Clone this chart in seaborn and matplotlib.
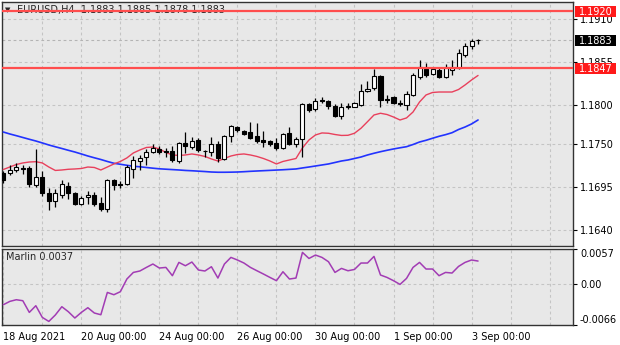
import numpy as np
import pandas as pd
import matplotlib
matplotlib.use("Agg")
import matplotlib.pyplot as plt
import matplotlib.transforms as mtransforms
from matplotlib.patches import Rectangle
import seaborn as sns

# ---------------- data (EURUSD H4, 18 Aug 2021 00:00 -> 3 Sep 2021 04:00) ----------------
opens = [1.17130, 1.17130, 1.17168, 1.17194, 1.17194, 1.16976, 1.17078, 1.16874, 1.16765, 1.16848,
         1.16963, 1.16874, 1.16733, 1.16822, 1.16848, 1.16746, 1.16669, 1.17040, 1.16989, 1.16989,
         1.17181, 1.17283, 1.17334, 1.17398, 1.17437, 1.17411, 1.17411, 1.17277, 1.17514, 1.17462,
         1.17552, 1.17411, 1.17398, 1.17501, 1.17309, 1.17603, 1.17718, 1.17661, 1.17654, 1.17603,
         1.17552, 1.17539, 1.17514, 1.17453, 1.17638, 1.17501, 1.17561, 1.18009, 1.17945, 1.18070,
         1.18051, 1.17987, 1.17859, 1.17978, 1.17978, 1.18000, 1.18183, 1.18211, 1.18365, 1.18077,
         1.18096, 1.18019, 1.18000, 1.18134, 1.18358, 1.18461, 1.18397, 1.18448, 1.18358, 1.18454,
         1.18474, 1.18640, 1.18749, 1.18830]
highs = [1.17155, 1.17232, 1.17258, 1.17232, 1.17219, 1.17437, 1.17155, 1.16938, 1.16925, 1.17040,
         1.17014, 1.16886, 1.16835, 1.16893, 1.16880, 1.16822, 1.17053, 1.17053, 1.17027, 1.17232,
         1.17341, 1.17360, 1.17437, 1.17501, 1.17475, 1.17450, 1.17475, 1.17530, 1.17654, 1.17590,
         1.17578, 1.17424, 1.17590, 1.17539, 1.17616, 1.17744, 1.17735, 1.17680, 1.17782, 1.17770,
         1.17671, 1.17552, 1.17574, 1.17638, 1.17715, 1.17587, 1.18022, 1.18029, 1.18086, 1.18099,
         1.18064, 1.18013, 1.18022, 1.18029, 1.18042, 1.18269, 1.18311, 1.18461, 1.18378, 1.18128,
         1.18115, 1.18070, 1.18179, 1.18413, 1.18582, 1.18531, 1.18474, 1.18467, 1.18525, 1.18570,
         1.18713, 1.18790, 1.18841, 1.18850]
lows = [1.17002, 1.17104, 1.17142, 1.17117, 1.16950, 1.16950, 1.16835, 1.16656, 1.16694, 1.16810,
        1.16797, 1.16720, 1.16720, 1.16733, 1.16707, 1.16643, 1.16630, 1.16912, 1.16938, 1.16970,
        1.17066, 1.17168, 1.17232, 1.17386, 1.17373, 1.17334, 1.17270, 1.17258, 1.17386, 1.17437,
        1.17402, 1.17334, 1.17341, 1.17264, 1.17296, 1.17520, 1.17658, 1.17616, 1.17561, 1.17510,
        1.17466, 1.17475, 1.17424, 1.17437, 1.17488, 1.17466, 1.17338, 1.17914, 1.17923, 1.18022,
        1.17945, 1.17843, 1.17825, 1.17945, 1.17971, 1.17987, 1.18170, 1.18192, 1.17971, 1.18026,
        1.18009, 1.17987, 1.17936, 1.18115, 1.18333, 1.18362, 1.18384, 1.18346, 1.18342, 1.18384,
        1.18461, 1.18618, 1.18717, 1.18780]
closes = [1.17040, 1.17174, 1.17206, 1.17181, 1.16989, 1.17078, 1.16874, 1.16771, 1.16874, 1.16989,
          1.16874, 1.16733, 1.16810, 1.16854, 1.16733, 1.16669, 1.17034, 1.16970, 1.16976, 1.17206,
          1.17302, 1.17322, 1.17398, 1.17450, 1.17392, 1.17398, 1.17290, 1.17507, 1.17469, 1.17533,
          1.17418, 1.17405, 1.17501, 1.17322, 1.17603, 1.17731, 1.17674, 1.17629, 1.17578, 1.17533,
          1.17520, 1.17501, 1.17450, 1.17625, 1.17501, 1.17561, 1.18009, 1.17936, 1.18051, 1.18045,
          1.17987, 1.17859, 1.17978, 1.17987, 1.18022, 1.18179, 1.18201, 1.18371, 1.18064, 1.18070,
          1.18026, 1.18013, 1.18141, 1.18384, 1.18483, 1.18384, 1.18457, 1.18352, 1.18474, 1.18474,
          1.18659, 1.18755, 1.18819, 1.18830]
ma_fast = [1.17174, 1.17206, 1.17238, 1.17258, 1.17270, 1.17274, 1.17258, 1.17206, 1.17162, 1.17168,
           1.17177, 1.17181, 1.17187, 1.17206, 1.17200, 1.17168, 1.17206, 1.17245, 1.17277, 1.17322,
           1.17386, 1.17424, 1.17456, 1.17462, 1.17437, 1.17392, 1.17360, 1.17354, 1.17360, 1.17373,
           1.17360, 1.17341, 1.17309, 1.17283, 1.17315, 1.17347, 1.17366, 1.17373, 1.17360, 1.17341,
           1.17315, 1.17283, 1.17245, 1.17277, 1.17296, 1.17315, 1.17450, 1.17552, 1.17616, 1.17642,
           1.17638, 1.17622, 1.17610, 1.17612, 1.17638, 1.17702, 1.17786, 1.17872, 1.17894, 1.17878,
           1.17846, 1.17808, 1.17834, 1.17910, 1.18038, 1.18128, 1.18160, 1.18166, 1.18166, 1.18166,
           1.18198, 1.18256, 1.18320, 1.18378]
ma_slow = [1.17654, 1.17629, 1.17607, 1.17584, 1.17561, 1.17539, 1.17514, 1.17488, 1.17465, 1.17443,
           1.17420, 1.17398, 1.17373, 1.17347, 1.17324, 1.17302, 1.17277, 1.17254, 1.17241, 1.17228,
           1.17215, 1.17209, 1.17200, 1.17191, 1.17183, 1.17178, 1.17173, 1.17168, 1.17162, 1.17158,
           1.17153, 1.17148, 1.17142, 1.17139, 1.17139, 1.17140, 1.17142, 1.17146, 1.17151, 1.17155,
           1.17159, 1.17163, 1.17167, 1.17171, 1.17176, 1.17181, 1.17194, 1.17206, 1.17219, 1.17232,
           1.17245, 1.17264, 1.17283, 1.17296, 1.17315, 1.17334, 1.17360, 1.17382, 1.17402, 1.17420,
           1.17437, 1.17452, 1.17466, 1.17494, 1.17526, 1.17548, 1.17574, 1.17599, 1.17620, 1.17645,
           1.17686, 1.17718, 1.17757, 1.17808]
marlin = [-0.00332, -0.00278, -0.00251, -0.00267, -0.00456, -0.00348, -0.00537, -0.00602, -0.00498, -0.00364,
          -0.00445, -0.00547, -0.00456, -0.00380, -0.00466, -0.00494, -0.00133, -0.00170, -0.00121, 0.00084,
          0.00191, 0.00214, 0.00272, 0.00327, 0.00262, 0.00272, 0.00138, 0.00353, 0.00299, 0.00359,
          0.00230, 0.00214, 0.00283, 0.00100, 0.00327, 0.00434, 0.00392, 0.00343, 0.00272, 0.00218,
          0.00165, 0.00110, 0.00057, 0.00202, 0.00084, 0.00100, 0.00515, 0.00417, 0.00472, 0.00434,
          0.00364, 0.00191, 0.00256, 0.00218, 0.00239, 0.00343, 0.00343, 0.00450, 0.00149, 0.00110,
          0.00057, -0.00003, 0.00094, 0.00272, 0.00353, 0.00246, 0.00246, 0.00138, 0.00191, 0.00181,
          0.00288, 0.00353, 0.00392, 0.00375]

date_labels = ["18 Aug 2021", "20 Aug 00:00", "24 Aug 00:00", "26 Aug 00:00",
               "30 Aug 00:00", "1 Sep 00:00", "3 Sep 00:00"]
date_label_bars = [0, 12, 24, 36, 48, 60, 72]
price_ticks = [1.1640, 1.1695, 1.1750, 1.1800, 1.1855, 1.1910]
level_prices = [1.1920, 1.1847]
last_price = 1.1883
marlin_ticks = [0.0057, 0.0, -0.0066]
marlin_tick_labels = ["0.0057", "0.00", "-0.0066"]
title_text = "EURUSD,H4  1.1883 1.1885 1.1878 1.1883"
marlin_title = "Marlin 0.0037"

# ---------------- styling ----------------
sns.set_style("white")
plt.rcParams['font.family'] = ['DejaVu Sans']
FS = 7
PANEL_BG = '#e8e8e8'
GRID_C = '#c4c4c4'
GRID_LS = (0, (2.5, 2.5))
FRAME_C = '#333333'

W, H = 620, 345
fig = plt.figure(figsize=(W / 100, H / 100), dpi=100, facecolor='white')


def px_axes(left, top, right, bottom):
    return fig.add_axes([left / W, 1 - bottom / H, (right - left) / W, (bottom - top) / H])


ax = px_axes(2, 2, 573, 246)
ax2 = px_axes(2, 249, 573, 325)

df = pd.DataFrame(dict(bar=np.arange(len(opens)), open=opens, high=highs, low=lows,
                       close=closes, fast=ma_fast, slow=ma_slow, marlin=marlin))

XLIM = (-0.2, 87.6)
for a in (ax, ax2):
    a.set_facecolor(PANEL_BG)
    a.set_xlim(*XLIM)
    for s in a.spines.values():
        s.set_color(FRAME_C)
        s.set_linewidth(1.0)
        s.set_visible(True)

# ---------------- main price panel ----------------
ax.set_ylim(1.16195, 1.19318)

# moving averages (seaborn)
sns.lineplot(data=df, x='bar', y='slow', ax=ax, color='#2233ff', linewidth=1.2, zorder=3)
sns.lineplot(data=df, x='bar', y='fast', ax=ax, color='#e8405c', linewidth=1.0, zorder=3)

# candles
up = df['close'] >= df['open']
ax.vlines(df['bar'], df['low'], df['high'], color='black', linewidth=0.9, zorder=4)
body_bottom = np.minimum(df['open'], df['close'])
body_h = np.maximum((df['close'] - df['open']).abs(), 0.00003)
ax.bar(df['bar'], body_h, bottom=body_bottom, width=0.62,
       color=np.where(up, 'white', 'black'), edgecolor='black', linewidth=0.8, zorder=5)

# bid line and horizontal levels
ax.axhline(last_price, color='#b4b4b4', linewidth=0.8, linestyle=GRID_LS, zorder=1)
for lev in level_prices:
    ax.axhline(lev, color='#ff4d4d', linewidth=1.6, zorder=6)

# grid
ax.set_xticks(np.arange(6, 88, 6))
ax.tick_params(axis='x', bottom=False, labelbottom=False)
ax.grid(True, axis='both', color=GRID_C, linewidth=0.8, linestyle=GRID_LS, zorder=0)
ax.set_axisbelow(True)
ax.set_xlabel('')
ax.set_ylabel('')

ax.yaxis.tick_right()
ax.set_yticks(price_ticks)
ax.set_yticklabels([f"{t:.4f}" for t in price_ticks])
ax.tick_params(axis='y', length=3, width=0.8, pad=2, labelsize=FS, colors='black', direction='out')

# price tags on right axis
blend = mtransforms.blended_transform_factory(ax.transAxes, ax.transData)
ylo, yhi = ax.get_ylim()
px_per_unit = 244 / (yhi - ylo)
tag_h = 11 / px_per_unit
tag_x0 = 1 + 2 / 571
tag_w = 41 / 571
for price, col in [(level_prices[0], '#ff1a1a'), (last_price, 'black'), (level_prices[1], '#ff1a1a')]:
    ax.add_patch(Rectangle((tag_x0, price - tag_h / 2), tag_w, tag_h, transform=blend,
                           facecolor=col, edgecolor='none', clip_on=False, zorder=10))
    ax.text(tag_x0 + tag_w / 2, price, f"{price:.4f}", transform=blend, color='white',
            fontsize=FS, ha='center', va='center_baseline', clip_on=False, zorder=11)

# title
ax.text(3 / 571, 1 - 8 / 244, "\u25bc", transform=ax.transAxes, fontsize=5, va='center', ha='left', zorder=5)
ax.text(15 / 571, 1 - 8 / 244, title_text, transform=ax.transAxes, fontsize=FS,
        va='center', ha='left', zorder=5)

# ---------------- Marlin panel ----------------
ax2.set_ylim(-0.0066, 0.0057)
sns.lineplot(data=df, x='bar', y='marlin', ax=ax2, color='#a23cb4', linewidth=1.1, zorder=3)
ax2.axhline(0, color=GRID_C, linewidth=0.8, linestyle=GRID_LS, zorder=0)
ax2.set_xlabel('')
ax2.set_ylabel('')

ax2.set_xticks(date_label_bars)
ax2.set_xticklabels(date_labels)
ax2.set_xticks(np.arange(6, 88, 6), minor=True)
ax2.tick_params(axis='x', which='major', length=3, width=0.8, pad=2, labelsize=FS,
                colors='black', direction='out')
ax2.tick_params(axis='x', which='minor', length=0)
for lab in ax2.get_xticklabels():
    lab.set_ha('left')
ax2.grid(True, axis='x', which='both', color=GRID_C, linewidth=0.8, linestyle=GRID_LS, zorder=0)
ax2.set_axisbelow(True)

ax2.yaxis.tick_right()
ax2.set_yticks(marlin_ticks)
ax2.set_yticklabels(marlin_tick_labels)
ax2.tick_params(axis='y', length=3, width=0.8, pad=2, labelsize=FS, colors='black', direction='out')
ylabs = ax2.get_yticklabels()
ylabs[0].set_va('top')
ylabs[-1].set_va('bottom')

ax2.text(4 / 571, 1 - 8 / 76, marlin_title, transform=ax2.transAxes, fontsize=FS,
         va='center', ha='left', zorder=5)

fig.savefig("out.png", dpi=100, facecolor='white')
